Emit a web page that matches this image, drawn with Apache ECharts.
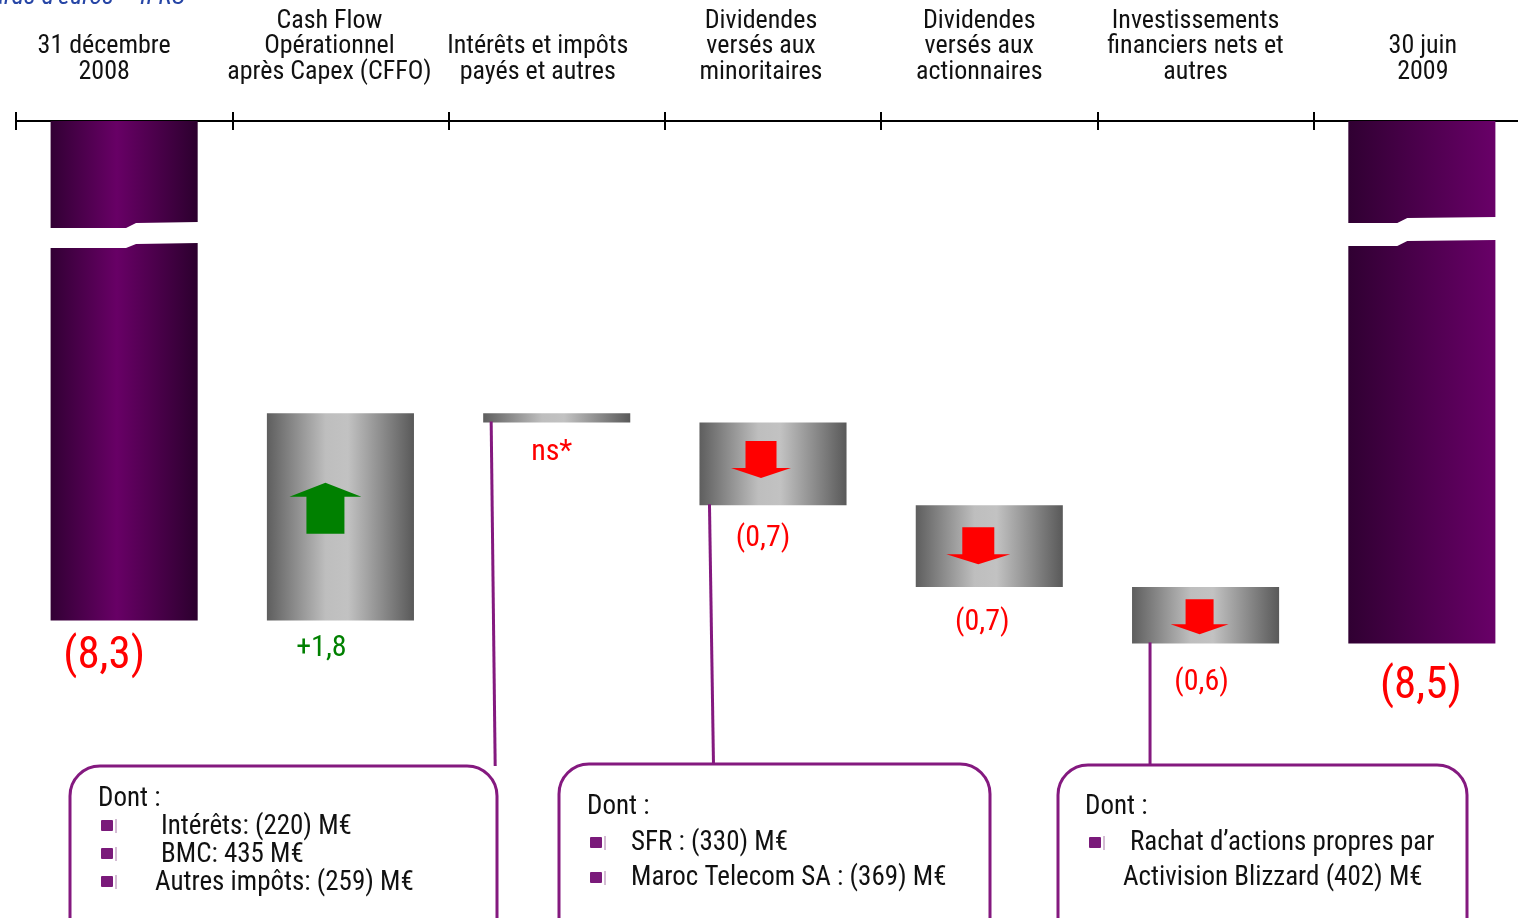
<!DOCTYPE html>
<html><head><meta charset="utf-8">
<script src="https://cdn.jsdelivr.net/npm/echarts@6/dist/echarts.min.js"></script>
<style>html,body{margin:0;padding:0;background:#fff}#c{width:1518px;height:918px}</style>
</head><body><div id="c"></div>
<script>
// ---- data (net debt, billions of euros) ----
const categories = ['31 décembre\n2008', 'Cash Flow\nOpérationnel\naprès Capex (CFFO)', 'Intérêts et impôts\npayés et autres', 'Dividendes\nversés aux\nminoritaires', 'Dividendes\nversés aux\nactionnaires', 'Investissements\nfinanciers nets et\nautres', '30 juin\n2009'];
const startDebt = 8.3;
const changes = [-1.8, 0.08, 0.72, 0.71, 0.49];   // + = debt increase
const endDebt = 8.5;
const valueLabels = ['(8,3)', '+1,8', 'ns*', '(0,7)', '(0,7)', '(0,6)', '(8,5)'];
const subtitle = 'En milliards d\u2019euros \u2013 IFRS';
const box1Lines = ['Intérêts: (220) M€', 'BMC: 435 M€', 'Autres impôts: (259) M€'];
const box2Lines = ['SFR : (330) M€', 'Maroc Telecom SA : (369) M€'];
const box3Lines = ['Rachat d\u2019actions propres par', 'Activision Blizzard (402) M€'];

// ---- build waterfall items ----
const yMin = 3.96, yMax = 10;
const items = [[0, 0, startDebt]];
let level = startDebt;
changes.forEach((c, k) => { items.push([k + 1, level, level + c]); level += c; });
items.push([6, 0, endDebt]);

// ---- styles ----
const FONT = "'Liberation Sans Narrow','Arial Narrow','Roboto Condensed','DejaVu Sans Condensed',sans-serif";
const PURPLE = '#84197f';
const kinds = ['start', 'up', 'ns', 'down', 'down', 'down', 'end'];
const labelStyle = [
  {dx: -20, dy: 36, size: 45, color: '#ff0000'},
  {dx: -19, dy: 28, size: 30, color: '#008000'},
  {dx: -5, dy: 30, size: 30, color: '#ff0000'},
  {dx: -10, dy: 33, size: 30, color: '#ff0000'},
  {dx: -7, dy: 35, size: 30, color: '#ff0000'},
  {dx: -4, dy: 39, size: 30, color: '#ff0000'},
  {dx: -1, dy: 43, size: 45, color: '#ff0000'}
];
const arrowStyle = {
  1: {dx: -15, a: -34, b: -20, c: 17, head: 36, shaft: 19},
  3: {dx: -12, a: -23, b: 4, c: 14, head: 30, shaft: 15.5},
  4: {dx: -11, a: -19, b: 8, c: 18, head: 32, shaft: 16},
  5: {dx: -6, a: -16, b: 9, c: 19, head: 29, shaft: 14}
};
const breakStyle = {
  0: {aL: 107, aR: 102, bL: 127, bR: 123, step: 0.54},
  6: {aL: 102, aR: 97, bL: 125, bR: 120, step: 0.36}
};
const connectors = {
  2: {dxS: 8, dxE: 12, yEnd: 766},
  3: {dxS: 10, dxE: 14, yEnd: 763},
  5: {dxS: 18, dxE: 18, yEnd: 764}
};
const labelShift = [-20, -11, -19, -12, -10, -10, 1];

const greyGrad = {type: 'linear', x: 0, y: 0, x2: 1, y2: 0, colorStops: [
  {offset: 0, color: '#5e5e5e'}, {offset: 0.4, color: '#bebebe'}, {offset: 0.55, color: '#c2c2c2'}, {offset: 1, color: '#595959'}]};
const startGrad = {type: 'linear', x: 0, y: 0, x2: 1, y2: 0, colorStops: [
  {offset: 0, color: '#320034'}, {offset: 0.45, color: '#680066'}, {offset: 1, color: '#2c002e'}]};
const endGrad = {type: 'linear', x: 0, y: 0, x2: 1, y2: 0, colorStops: [
  {offset: 0, color: '#300032'}, {offset: 1, color: '#690068'}]};

function renderItem(params, api) {
  const i = api.value(0), a = api.value(1), b = api.value(2);
  const cs = params.coordSys;
  const p1 = api.coord([i, Math.max(a, yMin)]);
  const p2 = api.coord([i, b]);
  const bw = api.size([1, 0])[0] * 0.68;
  const cx = p1[0];
  const top = Math.min(p1[1], p2[1]), bot = Math.max(p1[1], p2[1]);
  const left = cx - bw / 2, right = cx + bw / 2;
  const kind = kinds[i];
  const children = [];
  children.push({type: 'rect', shape: {x: left, y: top, width: bw, height: bot - top},
    style: {fill: kind === 'start' ? startGrad : kind === 'end' ? endGrad : greyGrad}});
  const br = breakStyle[i];
  if (br) {
    const xs = left + bw * br.step;
    children.push({type: 'polygon', shape: {points: [
      [left - 1, cs.y + br.aL], [xs - 4, cs.y + br.aL], [xs + 6, cs.y + br.aR], [right + 1, cs.y + br.aR - 1],
      [right + 1, cs.y + br.bR - 1], [xs + 6, cs.y + br.bR], [xs - 4, cs.y + br.bL], [left - 1, cs.y + br.bL]]},
      style: {fill: '#ffffff'}});
  }
  const ar = arrowStyle[i];
  if (ar) {
    const mx = cx + ar.dx, my = (top + bot) / 2;
    if (kind === 'up') {
      const up = [[mx, my + ar.a], [mx + ar.head, my + ar.b], [mx + ar.shaft, my + ar.b], [mx + ar.shaft, my + ar.c],
        [mx - ar.shaft, my + ar.c], [mx - ar.shaft, my + ar.b], [mx - ar.head, my + ar.b]];
      children.push({type: 'polygon', shape: {points: up}, style: {fill: '#008000'}});
    } else {
      const pts = [[mx - ar.shaft, my + ar.a], [mx + ar.shaft, my + ar.a], [mx + ar.shaft, my + ar.b],
        [mx + ar.head, my + ar.b], [mx, my + ar.c], [mx - ar.head, my + ar.b], [mx - ar.shaft, my + ar.b]];
      children.push({type: 'polygon', shape: {points: pts}, style: {fill: '#ff0000'}});
    }
  }
  const cn = connectors[i];
  if (cn) {
    children.push({type: 'line', shape: {x1: left + cn.dxS, y1: bot - 1, x2: left + cn.dxE, y2: cn.yEnd},
      style: {stroke: PURPLE, lineWidth: 3}});
  }
  const ls = labelStyle[i];
  children.push({type: 'text', style: {text: valueLabels[i], x: cx + ls.dx, y: bot + ls.dy, align: 'center',
    verticalAlign: 'middle', fontSize: ls.size, fontFamily: FONT, fill: ls.color}});
  return {type: 'group', children};
}

function textEl(text, x, y, size) {
  return {type: 'text', z: 10, style: {text, x, y, fontSize: size || 27, fontFamily: FONT, fill: '#111', align: 'left', verticalAlign: 'middle'}};
}
function bullet(x, y) {
  return [{type: 'rect', z: 10, shape: {x: x, y: y - 6, width: 12, height: 11, r: 1}, style: {fill: '#7a1a7a'}},
    {type: 'line', z: 10, shape: {x1: x + 15, y1: y - 7, x2: x + 15, y2: y + 7}, style: {stroke: '#a879a8', lineWidth: 1}}];
}
function box(x, y, w) {
  return {type: 'rect', z: 9, shape: {x, y, width: w, height: 220, r: 30}, style: {fill: '#fff', stroke: PURPLE, lineWidth: 3}};
}

const graphics = [
  {type: 'text', z: 10, style: {text: subtitle, x: 185, y: 10, align: 'right', verticalAlign: 'bottom', fontSize: 26,
    fontStyle: 'italic', fontFamily: FONT, fill: '#2746a6'}},
  box(70, 766, 427), box(559, 764, 431), box(1058, 765, 409),
  textEl('Dont :', 98, 799),
  ...bullet(101, 826), textEl(box1Lines[0], 161, 827),
  ...bullet(101, 854), textEl(box1Lines[1], 161, 855),
  ...bullet(101, 882), textEl(box1Lines[2], 155, 883),
  textEl('Dont :', 587, 807),
  ...bullet(590, 843), textEl(box2Lines[0], 631, 843),
  ...bullet(590, 878), textEl(box2Lines[1], 631, 878),
  textEl('Dont :', 1085, 807),
  ...bullet(1089, 843), textEl(box3Lines[0], 1130, 843),
  textEl(box3Lines[1], 1123, 878)
];

const chart = echarts.init(document.getElementById('c'), null, {renderer: 'canvas'});
chart.setOption({
  animation: false,
  backgroundColor: '#ffffff',
  grid: {left: 16, width: 1514, top: 121, height: 695, containLabel: false, outerBoundsMode: 'none'},
  xAxis: [{
    type: 'category', position: 'top',
    data: categories.map((c, k) => ({value: c, textStyle: {padding: labelShift[k] < 0 ? [0, -2 * labelShift[k], 0, 0] : [0, 0, 0, 2 * labelShift[k]]}})),
    axisLine: {show: true, onZero: false, lineStyle: {color: '#000', width: 2}},
    axisTick: {show: true, inside: false, length: 9, lineStyle: {color: '#000', width: 2}},
    axisLabel: {interval: 0, margin: 36, fontSize: 26, lineHeight: 25.5, color: '#111', fontFamily: FONT, align: 'center'},
    splitLine: {show: false}
  }, {
    type: 'category', position: 'top', data: categories,
    axisLine: {show: false, onZero: false},
    axisTick: {show: true, inside: true, length: 9, lineStyle: {color: '#000', width: 2}},
    axisLabel: {show: false}, splitLine: {show: false}
  }],
  yAxis: {type: 'value', inverse: true, min: yMin, max: yMax, show: false, splitLine: {show: false}},
  series: [{
    type: 'custom', renderItem, data: items, encode: {x: 0, y: [1, 2]}, clip: false
  }],
  graphic: graphics
});
</script></body></html>
